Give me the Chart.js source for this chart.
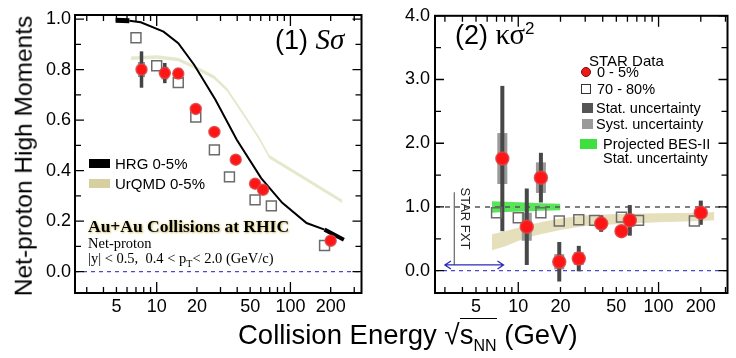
<!DOCTYPE html>
<html>
<head>
<meta charset="utf-8">
<script src="https://cdn.jsdelivr.net/npm/chart.js@4.4.0/dist/chart.umd.min.js"></script>
<style>
  body { margin: 0; background: #fff; }
  #wrap { position: relative; width: 736px; height: 358px; overflow: hidden; font-family: "Liberation Sans", Arial, sans-serif; }
  canvas { position: absolute; top: 0; }
  .t { position: absolute; white-space: nowrap; line-height: 1; color: #000; }
  .sw { position: absolute; }
  .serif { font-family: "Liberation Serif", "Times New Roman", serif; }
</style>
</head>
<body>
<div id="wrap">
  <canvas id="c1" width="370" height="358" style="left:0"></canvas>
  <canvas id="c2" width="366" height="358" style="left:370px"></canvas>

  <div class="t" style="left:24px; top:156px; font-size:24.5px; transform: translate(-50%,-50%) rotate(-90deg);">Net-proton High Moments</div>
  <div class="t" style="left:238px; top:321px; font-size:27.5px;">Collision Energy <span style="font-size:28px">&radic;</span><span style="border-top:1.5px solid #000;">s<sub style="font-size:16px">NN</sub></span> (GeV)</div>

  <!-- panel (1) -->
  <div class="t" style="left:275px; top:25px; font-size:27px;">(1) <span class="serif" style="font-style:italic; font-size:29px;">S&sigma;</span></div>
  <div class="sw" style="left:89px; top:159px; width:21px; height:9px; background:#000;"></div>
  <div class="t" style="left:115px; top:156px; font-size:15px;">HRG 0-5%</div>
  <div class="sw" style="left:89px; top:179px; width:21px; height:9px; background:#d6cf9f;"></div>
  <div class="t" style="left:115px; top:176px; font-size:15px;">UrQMD 0-5%</div>
  <div class="t serif" style="left:88px; top:218px; font-size:17.5px; font-weight:bold; text-shadow: 1px 1px 2px #d8cc88, 0 0 3px #e2d898;">Au+Au Collisions at RHIC</div>
  <div class="t serif" style="left:88px; top:236px; font-size:14.5px;">Net-proton</div>
  <div class="t serif" style="left:88px; top:251px; font-size:14.5px;">|y| &lt; 0.5,&nbsp; 0.4 &lt; p<sub style="font-size:10px">T</sub>&lt; 2.0 (GeV/c)</div>

  <!-- panel (2) -->
  <div class="t" style="left:455px; top:20px; font-size:27px;">(2) <span class="serif" style="font-size:29px;">&kappa;&sigma;</span><sup style="font-size:17px">2</sup></div>
  <div class="t" style="left:589px; top:53px; font-size:15px;">STAR Data</div>
  <div class="sw" style="left:581px; top:67px; width:8px; height:8px; border-radius:50%; background:#f01818; border:1.5px solid #6a1010;"></div>
  <div class="t" style="left:597px; top:65px; font-size:14.5px;">0 - 5%</div>
  <div class="sw" style="left:581px; top:84px; width:8px; height:8px; border:1.5px solid #333; background:#fff;"></div>
  <div class="t" style="left:597px; top:82px; font-size:14.5px;">70 - 80%</div>
  <div class="sw" style="left:582px; top:103px; width:11px; height:10px; background:#555;"></div>
  <div class="t" style="left:596px; top:101px; font-size:14.5px;">Stat. uncertainty</div>
  <div class="sw" style="left:582px; top:119px; width:11px; height:10px; background:#9a9a9a;"></div>
  <div class="t" style="left:596px; top:117px; font-size:14.5px;">Syst. uncertainty</div>
  <div class="sw" style="left:580px; top:139px; width:17px; height:10px; background:#3ee03e;"></div>
  <div class="t" style="left:603px; top:137px; font-size:14.5px;">Projected BES-II</div>
  <div class="t" style="left:603px; top:151px; font-size:14.5px;">Stat. uncertainty</div>
</div>

<script>
// beam energies of the STAR points (GeV); 70-80% points sit a bit off so they don't hide
var energies = [7.7, 11.5, 14.5, 19.6, 27, 39, 54.4, 62.4, 200];
var energiesPeriph = [7.0, 10, 14.5, 19.6, 27, 35, 54.4, 72, 180];

// axis ticks
var xLabeled = [5, 10, 20, 50, 100, 200];
var xMajor = [10, 100];
var xMinor = [3, 4, 5, 6, 7, 8, 9, 20, 30, 40, 50, 60, 70, 80, 90, 200, 300];
var y1Ticks = [0, 0.2, 0.4, 0.6, 0.8, 1.0];
var y1Minor = [0.1, 0.3, 0.5, 0.7, 0.9];
var y2Ticks = [0, 1, 2, 3, 4];
var y2Minor = [0.5, 1.5, 2.5, 3.5];

// (1) S*sigma
var sSigCentral = [0.80, 0.786, 0.784, 0.644, 0.553, 0.443, 0.348, 0.324, 0.122];
var sSigStat    = [0.072, 0.04, 0.02, 0.015, 0.012, 0.012, 0.012, 0.012, 0.01];
var sSigSys     = [0.03, 0.025, 0.02, 0.015, 0.015, 0.015, 0.015, 0.015, 0.012];
var sSigPeriph  = [0.926, 0.815, 0.748, 0.612, 0.482, 0.375, 0.284, 0.26, 0.103];

var hrgE = [4.93, 6.25, 7.6, 11.25, 14.5, 19.1, 27.5, 39.7, 60.4, 86.9, 132, 180, 251];
var hrgS = [0.995, 0.993, 0.987, 0.950, 0.904, 0.818, 0.68, 0.522, 0.370, 0.272, 0.192, 0.166, 0.126];

var urqmdSE  = [6.4, 10, 14.5, 19.1, 26.8, 33.6, 45, 58.8, 69.5, 245];
var urqmdSHi = [0.852, 0.857, 0.847, 0.817, 0.777, 0.727, 0.627, 0.532, 0.462, 0.284];
var urqmdSLo = [0.838, 0.843, 0.833, 0.803, 0.763, 0.713, 0.613, 0.518, 0.448, 0.270];

// (2) kappa*sigma^2
var kSigCentral = [1.76, 0.69, 1.46, 0.14, 0.19, 0.74, 0.62, 0.79, 0.91];
var kSigStat    = [1.14, 0.60, 0.39, 0.31, 0.20, 0.13, 0.10, 0.24, 0.19];
var kSigSys     = [0.40, 0.22, 0.24, 0.12, 0.10, 0.06, 0.06, 0.10, 0.08];
var kSigPeriph  = [0.91, 0.83, 0.91, 0.78, 0.80, 0.79, 0.84, 0.79, 0.78];

var besE  = [6.5, 8, 11.5, 14.5, 20];
var besHi = [1.09, 1.08, 1.07, 1.06, 1.05];
var besLo = [0.91, 0.92, 0.93, 0.94, 0.95];

var urqmdKE  = [6.5, 8, 11.5, 15, 20, 30, 50, 100, 200, 250];
var urqmdKHi = [0.57, 0.62, 0.71, 0.77, 0.82, 0.87, 0.89, 0.90, 0.91, 0.92];
var urqmdKLo = [0.32, 0.38, 0.52, 0.58, 0.64, 0.70, 0.73, 0.76, 0.78, 0.79];

function pts(xs, ys) {
  return xs.map(function (x, i) { return {x: x, y: ys[i]}; });
}

Chart.defaults.font.family = '"Liberation Sans", Arial, sans-serif';
Chart.defaults.color = '#000';

// frame, inward ticks, reference lines and error bars for one panel
function panelDecor(cfg) {
  return {
    id: 'panelDecor',
    beforeDatasetDraw: function (chart, args) {
      if (args.index !== 1) return;
      var ctx = chart.ctx, xs = chart.scales.x, ys = chart.scales.y, a = chart.chartArea;
      ctx.save();
      ctx.beginPath();
      ctx.rect(a.left, a.top, a.width, a.height);
      ctx.clip();
      cfg.refLines.forEach(function (r) {
        var y = ys.getPixelForValue(r.value);
        ctx.strokeStyle = r.color;
        ctx.lineWidth = r.width;
        ctx.setLineDash(r.dash);
        ctx.beginPath();
        ctx.moveTo(a.left, y);
        ctx.lineTo(a.right, y);
        ctx.stroke();
      });
      ctx.setLineDash([]);
      if (cfg.extra) cfg.extra(ctx, xs, ys);
      cfg.x.forEach(function (e, i) {
        var px = xs.getPixelForValue(e), v = cfg.y[i];
        var t = ys.getPixelForValue(v + cfg.sys[i]), b = ys.getPixelForValue(v - cfg.sys[i]);
        ctx.fillStyle = cfg.sysColor;
        ctx.fillRect(px - cfg.sysW / 2, t, cfg.sysW, b - t);
        t = ys.getPixelForValue(v + cfg.stat[i]);
        b = ys.getPixelForValue(v - cfg.stat[i]);
        ctx.fillStyle = cfg.statColor;
        ctx.fillRect(px - cfg.statW / 2, t, cfg.statW, b - t);
      });
      ctx.restore();
    },
    afterDraw: function (chart) {
      var ctx = chart.ctx, xs = chart.scales.x, ys = chart.scales.y, a = chart.chartArea;
      ctx.save();
      ctx.strokeStyle = '#000';
      ctx.lineWidth = 2;
      ctx.strokeRect(a.left, a.top, a.width, a.height);
      ctx.lineWidth = 1.3;
      function tickX(v, len) {
        var px = xs.getPixelForValue(v);
        if (px < a.left || px > a.right) return;
        ctx.beginPath();
        ctx.moveTo(px, a.bottom); ctx.lineTo(px, a.bottom - len);
        ctx.moveTo(px, a.top); ctx.lineTo(px, a.top + len);
        ctx.stroke();
      }
      function tickY(v, len) {
        var py = ys.getPixelForValue(v);
        ctx.beginPath();
        ctx.moveTo(a.left, py); ctx.lineTo(a.left + len, py);
        ctx.moveTo(a.right, py); ctx.lineTo(a.right - len, py);
        ctx.stroke();
      }
      xMinor.forEach(function (v) { tickX(v, 6); });
      xMajor.forEach(function (v) { tickX(v, 11); });
      cfg.yMinor.forEach(function (v) { tickY(v, 6); });
      cfg.yMajor.forEach(function (v) { tickY(v, 9); });
      ctx.restore();
    }
  };
}

function xScale(min, max) {
  return {
    type: 'logarithmic', min: min, max: max,
    grid: {display: false, drawTicks: false}, border: {display: false},
    afterBuildTicks: function (s) { s.ticks = xLabeled.map(function (v) { return {value: v}; }); },
    afterFit: function (s) { s.height = 65; },
    ticks: {autoSkip: false, maxRotation: 0, padding: 3, font: {size: 18},
      callback: function (v) { return String(v); }}
  };
}

function yScale(min, max, ticks, width, pad) {
  return {
    min: min, max: max,
    grid: {display: false, drawTicks: false}, border: {display: false},
    afterBuildTicks: function (s) { s.ticks = ticks.map(function (v) { return {value: v}; }); },
    afterFit: function (s) { s.width = width; },
    ticks: {padding: pad, font: {size: 18}, callback: function (v) { return Number(v).toFixed(1); }}
  };
}

var circleStyle = {type: 'scatter', pointRadius: 6, pointBackgroundColor: '#ff1515',
  pointBorderColor: 'rgba(220,70,70,0.85)', pointBorderWidth: 1.5, showLine: false};
var squareStyle = {type: 'scatter', pointStyle: 'rect', pointRadius: 7, pointBackgroundColor: 'rgba(255,255,255,0)',
  pointBorderColor: '#6b6b6b', pointBorderWidth: 1.5, showLine: false};

new Chart('c1', {
  type: 'scatter',
  data: {
    datasets: [
      Object.assign({label: '0-5%', data: pts(energies, sSigCentral)}, circleStyle, {pointRadius: 5.5}),
      Object.assign({label: '70-80%', data: pts(energiesPeriph, sSigPeriph)}, squareStyle),
      {label: 'HRG 0-5%', data: pts(hrgE, hrgS), showLine: true, pointRadius: 0, borderColor: '#000', borderWidth: 2,
        segment: {borderWidth: function (c) { return c.p0DataIndex === 0 ? 5 : (c.p0DataIndex >= 11 ? 4 : 2); }}},
      {label: 'UrQMD hi', data: pts(urqmdSE, urqmdSHi), showLine: true, pointRadius: 0,
        borderColor: 'transparent', backgroundColor: '#e6e8cd', fill: '+1'},
      {label: 'UrQMD lo', data: pts(urqmdSE, urqmdSLo), showLine: true, pointRadius: 0, borderColor: 'transparent'}
    ]
  },
  options: {
    responsive: false, animation: false, events: [],
    layout: {padding: {left: 0, right: 2, top: 15, bottom: 0}},
    plugins: {legend: {display: false}, tooltip: {enabled: false}},
    scales: {x: xScale(2.45, 340), y: yScale(-0.085, 1.016, y1Ticks, 75, 4)}
  },
  plugins: [panelDecor({
    x: energies, y: sSigCentral, stat: sSigStat, sys: sSigSys,
    statW: 3.5, sysW: 7, statColor: '#444', sysColor: '#8f9a8f',
    yMajor: y1Ticks, yMinor: y1Minor,
    refLines: [{value: 0, color: '#4a4ad0', width: 1.3, dash: [4, 4]}]
  })]
});

new Chart('c2', {
  type: 'scatter',
  data: {
    datasets: [
      Object.assign({label: '0-5%', data: pts(energies, kSigCentral)}, circleStyle, {pointRadius: 6.5}),
      Object.assign({label: '70-80%', data: pts(energiesPeriph, kSigPeriph)}, squareStyle),
      {label: 'BES-II hi', data: pts(besE, besHi), showLine: true, pointRadius: 0,
        borderColor: 'transparent', backgroundColor: 'rgba(60,225,60,0.85)', fill: '+1'},
      {label: 'BES-II lo', data: pts(besE, besLo), showLine: true, pointRadius: 0, borderColor: 'transparent'},
      {label: 'UrQMD hi', data: pts(urqmdKE, urqmdKHi), showLine: true, pointRadius: 0,
        borderColor: 'transparent', backgroundColor: '#e5dfbc', fill: '+1'},
      {label: 'UrQMD lo', data: pts(urqmdKE, urqmdKLo), showLine: true, pointRadius: 0, borderColor: 'transparent'}
    ]
  },
  options: {
    responsive: false, animation: false, events: [],
    layout: {padding: {left: 0, right: 3, top: 15, bottom: 0}},
    plugins: {legend: {display: false}, tooltip: {enabled: false}},
    scales: {x: xScale(2.55, 310), y: yScale(-0.35, 4.0, y2Ticks, 65, 5)}
  },
  plugins: [panelDecor({
    x: energies, y: kSigCentral, stat: kSigStat, sys: kSigSys,
    statW: 4, sysW: 10, statColor: '#474747', sysColor: '#9a9a9a',
    yMajor: y2Ticks, yMinor: y2Minor,
    refLines: [{value: 0, color: '#4a4ad0', width: 1.3, dash: [4, 4]},
               {value: 1, color: '#555', width: 1.5, dash: [5, 5]}],
    extra: function (ctx, xs, ys) {
      // fixed-target reach: marker line, label and arrow
      var lx = xs.getPixelForValue(3.5);
      ctx.strokeStyle = '#666';
      ctx.lineWidth = 1.2;
      ctx.beginPath();
      ctx.moveTo(lx, ys.getPixelForValue(1.23));
      ctx.lineTo(lx, ys.getPixelForValue(0.09));
      ctx.stroke();
      ctx.save();
      ctx.translate(xs.getPixelForValue(4.12), ys.getPixelForValue(0.82));
      ctx.rotate(Math.PI / 2);
      ctx.fillStyle = '#222';
      ctx.font = '13px "Liberation Sans", Arial, sans-serif';
      ctx.textAlign = 'center';
      ctx.textBaseline = 'middle';
      ctx.fillText('STAR FXT', 0, 0);
      ctx.restore();
      var ay = ys.getPixelForValue(0.09), x0 = xs.getPixelForValue(3.0), x1 = xs.getPixelForValue(7.85);
      ctx.strokeStyle = '#2b2bb8';
      ctx.lineWidth = 1.3;
      ctx.beginPath();
      ctx.moveTo(x0, ay); ctx.lineTo(x1, ay);
      ctx.moveTo(x0 + 6, ay - 4); ctx.lineTo(x0, ay); ctx.lineTo(x0 + 6, ay + 4);
      ctx.moveTo(x1 - 6, ay - 4); ctx.lineTo(x1, ay); ctx.lineTo(x1 - 6, ay + 4);
      ctx.stroke();
    }
  })]
});
</script>
</body>
</html>
